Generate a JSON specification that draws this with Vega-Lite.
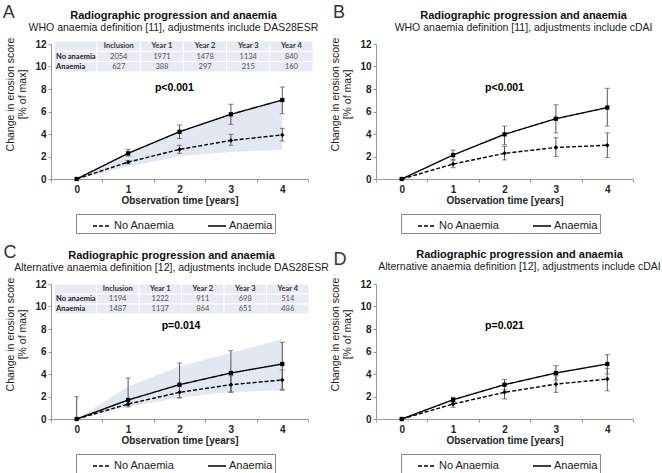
{
"$schema": "https://vega.github.io/schema/vega-lite/v6.json",
"padding": {"left": 2, "top": 3, "right": 0, "bottom": 0},
"background": "white",
"datasets": {
"pts": [
{"p":"A","s":"No Anaemia","x":0,"y":0,"lo":null,"hi":null},
{"p":"A","s":"No Anaemia","x":1,"y":1.5,"lo":1.35,"hi":1.65},
{"p":"A","s":"No Anaemia","x":2,"y":2.63,"lo":2.28,"hi":3.0},
{"p":"A","s":"No Anaemia","x":3,"y":3.43,"lo":3.0,"hi":3.97},
{"p":"A","s":"No Anaemia","x":4,"y":3.92,"lo":3.38,"hi":4.5},
{"p":"A","s":"Anaemia","x":0,"y":0,"lo":null,"hi":null},
{"p":"A","s":"Anaemia","x":1,"y":2.28,"lo":2.04,"hi":2.64},
{"p":"A","s":"Anaemia","x":2,"y":4.2,"lo":3.6,"hi":4.8},
{"p":"A","s":"Anaemia","x":3,"y":5.75,"lo":4.86,"hi":6.64},
{"p":"A","s":"Anaemia","x":4,"y":7.02,"lo":5.8,"hi":8.18},
{"p":"B","s":"No Anaemia","x":0,"y":0,"lo":null,"hi":null},
{"p":"B","s":"No Anaemia","x":1,"y":1.33,"lo":1.0,"hi":1.7},
{"p":"B","s":"No Anaemia","x":2,"y":2.28,"lo":1.7,"hi":2.9},
{"p":"B","s":"No Anaemia","x":3,"y":2.8,"lo":2.0,"hi":3.67},
{"p":"B","s":"No Anaemia","x":4,"y":3.0,"lo":1.9,"hi":4.1},
{"p":"B","s":"Anaemia","x":0,"y":0,"lo":null,"hi":null},
{"p":"B","s":"Anaemia","x":1,"y":2.13,"lo":1.69,"hi":2.57},
{"p":"B","s":"Anaemia","x":2,"y":3.97,"lo":3.05,"hi":4.7},
{"p":"B","s":"Anaemia","x":3,"y":5.36,"lo":4.1,"hi":6.6},
{"p":"B","s":"Anaemia","x":4,"y":6.35,"lo":4.7,"hi":8.06},
{"p":"C","s":"No Anaemia","x":0,"y":0,"lo":null,"hi":null},
{"p":"C","s":"No Anaemia","x":1,"y":1.33,"lo":1.07,"hi":1.6},
{"p":"C","s":"No Anaemia","x":2,"y":2.37,"lo":1.87,"hi":2.96},
{"p":"C","s":"No Anaemia","x":3,"y":3.05,"lo":2.37,"hi":3.85},
{"p":"C","s":"No Anaemia","x":4,"y":3.47,"lo":2.58,"hi":4.36},
{"p":"C","s":"Anaemia","x":0,"y":0,"lo":0,"hi":1.98},
{"p":"C","s":"Anaemia","x":1,"y":1.69,"lo":1.2,"hi":3.64},
{"p":"C","s":"Anaemia","x":2,"y":3.05,"lo":1.9,"hi":4.98},
{"p":"C","s":"Anaemia","x":3,"y":4.09,"lo":2.4,"hi":6.07},
{"p":"C","s":"Anaemia","x":4,"y":4.89,"lo":2.6,"hi":6.81},
{"p":"D","s":"No Anaemia","x":0,"y":0,"lo":null,"hi":null},
{"p":"D","s":"No Anaemia","x":1,"y":1.33,"lo":1.04,"hi":1.6},
{"p":"D","s":"No Anaemia","x":2,"y":2.37,"lo":1.78,"hi":2.96},
{"p":"D","s":"No Anaemia","x":3,"y":3.1,"lo":2.37,"hi":3.85},
{"p":"D","s":"No Anaemia","x":4,"y":3.55,"lo":2.5,"hi":4.5},
{"p":"D","s":"Anaemia","x":0,"y":0,"lo":null,"hi":null},
{"p":"D","s":"Anaemia","x":1,"y":1.71,"lo":1.48,"hi":1.93},
{"p":"D","s":"Anaemia","x":2,"y":3.05,"lo":2.6,"hi":3.5},
{"p":"D","s":"Anaemia","x":3,"y":4.09,"lo":3.47,"hi":4.74},
{"p":"D","s":"Anaemia","x":4,"y":4.89,"lo":4.0,"hi":5.72}
],
"band": [
{"p":"A","x":0,"lo":0,"hi":0},
{"p":"A","x":1,"lo":1.12,"hi":2.28},
{"p":"A","x":2,"lo":2.02,"hi":4.2},
{"p":"A","x":3,"lo":2.4,"hi":5.75},
{"p":"A","x":4,"lo":2.6,"hi":7.02},
{"p":"C","x":0,"lo":0,"hi":0},
{"p":"C","x":1,"lo":1.1,"hi":2.9},
{"p":"C","x":2,"lo":1.9,"hi":4.7},
{"p":"C","x":3,"lo":2.4,"hi":5.9},
{"p":"C","x":4,"lo":2.55,"hi":7.1}
],
"notes": [
{"p":"A","t":"p<0.001","x":1.9,"y":8.1,"letter":"A","lx":-1.32,"ly":14.76},
{"p":"B","t":"p<0.001","x":2.0,"y":8.1,"letter":"B","lx":-1.22,"ly":14.76},
{"p":"C","t":"p=0.014","x":2.03,"y":8.27,"letter":"C","lx":-1.3,"ly":14.76},
{"p":"D","t":"p=0.021","x":2.0,"y":8.27,"letter":"D","lx":-1.2,"ly":14.13}
],
"tbl": [
{"p":"A","row":"Header","col":"Label","k":"e","v":""},
{"p":"A","row":"Header","col":"Inclusion","k":"h","v":"Inclusion"},
{"p":"A","row":"Header","col":"Year 1","k":"h","v":"Year 1"},
{"p":"A","row":"Header","col":"Year 2","k":"h","v":"Year 2"},
{"p":"A","row":"Header","col":"Year 3","k":"h","v":"Year 3"},
{"p":"A","row":"Header","col":"Year 4","k":"h","v":"Year 4"},
{"p":"A","row":"No anaemia","col":"Label","k":"l","v":"No anaemia"},
{"p":"A","row":"No anaemia","col":"Inclusion","k":"n","v":"2054"},
{"p":"A","row":"No anaemia","col":"Year 1","k":"n","v":"1971"},
{"p":"A","row":"No anaemia","col":"Year 2","k":"n","v":"1478"},
{"p":"A","row":"No anaemia","col":"Year 3","k":"n","v":"1134"},
{"p":"A","row":"No anaemia","col":"Year 4","k":"n","v":"840"},
{"p":"A","row":"Anaemia","col":"Label","k":"l","v":"Anaemia"},
{"p":"A","row":"Anaemia","col":"Inclusion","k":"n","v":"627"},
{"p":"A","row":"Anaemia","col":"Year 1","k":"n","v":"388"},
{"p":"A","row":"Anaemia","col":"Year 2","k":"n","v":"297"},
{"p":"A","row":"Anaemia","col":"Year 3","k":"n","v":"215"},
{"p":"A","row":"Anaemia","col":"Year 4","k":"n","v":"160"},
{"p":"C","row":"Header","col":"Label","k":"e","v":""},
{"p":"C","row":"Header","col":"Inclusion","k":"h","v":"Inclusion"},
{"p":"C","row":"Header","col":"Year 1","k":"h","v":"Year 1"},
{"p":"C","row":"Header","col":"Year 2","k":"h","v":"Year 2"},
{"p":"C","row":"Header","col":"Year 3","k":"h","v":"Year 3"},
{"p":"C","row":"Header","col":"Year 4","k":"h","v":"Year 4"},
{"p":"C","row":"No anaemia","col":"Label","k":"l","v":"No anaemia"},
{"p":"C","row":"No anaemia","col":"Inclusion","k":"n","v":"1194"},
{"p":"C","row":"No anaemia","col":"Year 1","k":"n","v":"1222"},
{"p":"C","row":"No anaemia","col":"Year 2","k":"n","v":"911"},
{"p":"C","row":"No anaemia","col":"Year 3","k":"n","v":"698"},
{"p":"C","row":"No anaemia","col":"Year 4","k":"n","v":"514"},
{"p":"C","row":"Anaemia","col":"Label","k":"l","v":"Anaemia"},
{"p":"C","row":"Anaemia","col":"Inclusion","k":"n","v":"1487"},
{"p":"C","row":"Anaemia","col":"Year 1","k":"n","v":"1137"},
{"p":"C","row":"Anaemia","col":"Year 2","k":"n","v":"864"},
{"p":"C","row":"Anaemia","col":"Year 3","k":"n","v":"651"},
{"p":"C","row":"Anaemia","col":"Year 4","k":"n","v":"486"}
]
},
"concat": [
{
"width": 257, "height": 135,
"title": {"text": "Radiographic progression and anaemia", "subtitle": "WHO anaemia definition [11], adjustments include DAS28ESR", "dx": -6},
"layer": [
{"encoding": {"x": {"field": "x", "type": "quantitative", "scale": {"domain": [-0.5, 4.5], "nice": false, "zero": false}, "axis": {"title": "Observation time [years]", "values": [-0.5,0,0.5,1,1.5,2,2.5,3,3.5,4,4.5], "labelExpr": "datum.value % 1 === 0 ? format(datum.value, 'd') : ''", "tickOpacity": {"condition": {"test": "datum.value % 1 === 0", "value": 0}, "value": 1}, "labelOverlap": false, "labelFlush": false}}},
"layer": [
{"data": {"name": "band"}, "transform": [{"filter": "datum.p === 'A'"}], "mark": {"type": "area", "color": "#e3e7f1"}, "encoding": {"y": {"field": "lo", "type": "quantitative", "scale": {"domain": [0, 12]}, "title": ["Change in erosion score", "[% of max]"]}, "y2": {"field": "hi"}}},
{"data": {"name": "pts"}, "transform": [{"filter": "datum.p === 'A' && datum.lo != null"}], "mark": {"type": "errorbar", "ticks": true, "size": 5, "thickness": 1, "color": "#555"}, "encoding": {"y": {"field": "lo", "type": "quantitative", "title": ["Change in erosion score", "[% of max]"]}, "y2": {"field": "hi"}}},
{"data": {"name": "pts"}, "transform": [{"filter": "datum.p === 'A'"}], "mark": {"type": "line", "color": "black", "strokeWidth": 1.4},
 "encoding": {"y": {"field": "y", "type": "quantitative", "scale": {"domain": [0, 12]}, "title": ["Change in erosion score", "[% of max]"]},
 "strokeDash": {"field": "s", "type": "nominal", "scale": {"domain": ["No Anaemia", "Anaemia"], "range": [[4, 2], [1, 0]]},
  "legend": {"orient": "none", "legendX": 25, "legendY": 170, "direction": "horizontal", "title": "\u00a0", "titleOrient": "left", "titlePadding": 14, "padding": 2, "strokeColor": "#888", "columnPadding": 30, "labelOffset": 2, "labelFontSize": 11, "labelColor": "#222", "symbolSize": 324, "symbolStrokeWidth": 1.4, "labelExpr": "datum.value === 'Anaemia' ? datum.label + '\u00a0\u00a0\u00a0' : datum.label"}}}},
{"data": {"name": "pts"}, "transform": [{"filter": "datum.p === 'A' && datum.s === 'No Anaemia'"}], "mark": {"type": "point", "filled": true, "color": "black", "opacity": 1, "size": 20, "shape": "diamond"}, "encoding": {"y": {"field": "y", "type": "quantitative"}}},
{"data": {"name": "pts"}, "transform": [{"filter": "datum.p === 'A' && datum.s === 'Anaemia'"}], "mark": {"type": "point", "filled": true, "color": "black", "opacity": 1, "size": 18, "shape": "square"}, "encoding": {"y": {"field": "y", "type": "quantitative"}}},
{"data": {"name": "notes"}, "transform": [{"filter": "datum.p === 'A'"}], "mark": {"type": "text", "fontWeight": "bold", "fontSize": 10.5}, "encoding": {"x": {"field": "x", "type": "quantitative"}, "y": {"field": "y", "type": "quantitative"}, "text": {"field": "t"}}},
{"data": {"name": "notes"}, "transform": [{"filter": "datum.p === 'A'"}], "mark": {"type": "text", "fontSize": 18, "color": "#333"}, "encoding": {"x": {"field": "lx", "type": "quantitative"}, "y": {"field": "ly", "type": "quantitative"}, "text": {"field": "letter"}}}
]},
{"data": {"name": "tbl"}, "transform": [{"filter": "datum.p === 'A'"}],
 "encoding": {"x": {"field": "col", "type": "nominal", "scale": {"type": "band", "domain": ["Label","Inclusion","Year 1","Year 2","Year 3","Year 4"], "range": [3, 262], "paddingInner": 0, "paddingOuter": 0}, "axis": null},
  "y": {"field": "row", "type": "nominal", "scale": {"type": "band", "domain": ["Header","No anaemia","Anaemia"], "range": [-3, 28], "paddingInner": 0, "paddingOuter": 0}, "axis": null}},
 "layer": [
  {"mark": {"type": "rect", "fill": "#e8ebf3", "stroke": "white", "strokeWidth": 1}},
  {"transform": [{"filter": "datum.k === 'h'"}], "mark": {"type": "text", "font": "Lato", "fontWeight": "bold", "fontSize": 7.5, "color": "#333"}, "encoding": {"text": {"field": "v"}}},
  {"transform": [{"filter": "datum.k === 'n'"}], "mark": {"type": "text", "font": "Lato", "fontSize": 7.5, "color": "#555"}, "encoding": {"text": {"field": "v"}}},
  {"transform": [{"filter": "datum.k === 'l'"}], "mark": {"type": "text", "font": "Lato", "fontWeight": "bold", "fontSize": 7.5, "color": "#222", "align": "left", "dx": 2}, "encoding": {"x": {"field": "col", "type": "nominal", "bandPosition": 0, "axis": null}, "text": {"field": "v"}}}
 ]}
],
"resolve": {"scale": {"x": "independent", "y": "independent"}}
},
{
"width": 257, "height": 135,
"title": {"text": "Radiographic progression and anaemia", "subtitle": "WHO anaemia definition [11], adjustments include cDAI", "dx": 19},
"encoding": {"x": {"field": "x", "type": "quantitative", "scale": {"domain": [-0.5, 4.5], "nice": false, "zero": false}, "axis": {"title": "Observation time [years]", "values": [-0.5,0,0.5,1,1.5,2,2.5,3,3.5,4,4.5], "labelExpr": "datum.value % 1 === 0 ? format(datum.value, 'd') : ''", "tickOpacity": {"condition": {"test": "datum.value % 1 === 0", "value": 0}, "value": 1}, "labelOverlap": false, "labelFlush": false}}},
"layer": [
{"data": {"name": "pts"}, "transform": [{"filter": "datum.p === 'B' && datum.lo != null"}], "mark": {"type": "errorbar", "ticks": true, "size": 5, "thickness": 1, "color": "#555"}, "encoding": {"y": {"field": "lo", "type": "quantitative", "scale": {"domain": [0, 12]}, "title": ["Change in erosion score", "[% of max]"]}, "y2": {"field": "hi"}}},
{"data": {"name": "pts"}, "transform": [{"filter": "datum.p === 'B'"}], "mark": {"type": "line", "color": "black", "strokeWidth": 1.4},
 "encoding": {"y": {"field": "y", "type": "quantitative", "scale": {"domain": [0, 12]}, "title": ["Change in erosion score", "[% of max]"]},
 "strokeDash": {"field": "s", "type": "nominal", "scale": {"domain": ["No Anaemia", "Anaemia"], "range": [[4, 2], [1, 0]]},
  "legend": {"orient": "none", "legendX": 25, "legendY": 170, "direction": "horizontal", "title": "\u00a0", "titleOrient": "left", "titlePadding": 14, "padding": 2, "strokeColor": "#888", "columnPadding": 30, "labelOffset": 2, "labelFontSize": 11, "labelColor": "#222", "symbolSize": 324, "symbolStrokeWidth": 1.4, "labelExpr": "datum.value === 'Anaemia' ? datum.label + '\u00a0\u00a0\u00a0' : datum.label"}}}},
{"data": {"name": "pts"}, "transform": [{"filter": "datum.p === 'B' && datum.s === 'No Anaemia'"}], "mark": {"type": "point", "filled": true, "color": "black", "opacity": 1, "size": 20, "shape": "diamond"}, "encoding": {"y": {"field": "y", "type": "quantitative"}}},
{"data": {"name": "pts"}, "transform": [{"filter": "datum.p === 'B' && datum.s === 'Anaemia'"}], "mark": {"type": "point", "filled": true, "color": "black", "opacity": 1, "size": 18, "shape": "square"}, "encoding": {"y": {"field": "y", "type": "quantitative"}}},
{"data": {"name": "notes"}, "transform": [{"filter": "datum.p === 'B'"}], "mark": {"type": "text", "fontWeight": "bold", "fontSize": 10.5}, "encoding": {"x": {"field": "x", "type": "quantitative"}, "y": {"field": "y", "type": "quantitative"}, "text": {"field": "t"}}},
{"data": {"name": "notes"}, "transform": [{"filter": "datum.p === 'B'"}], "mark": {"type": "text", "fontSize": 18, "color": "#333"}, "encoding": {"x": {"field": "lx", "type": "quantitative"}, "y": {"field": "ly", "type": "quantitative"}, "text": {"field": "letter"}}}
]
},
{
"width": 257, "height": 135,
"title": {"text": "Radiographic progression and anaemia", "subtitle": "Alternative anaemia definition [12], adjustments include DAS28ESR", "dx": -8},
"layer": [
{"encoding": {"x": {"field": "x", "type": "quantitative", "scale": {"domain": [-0.5, 4.5], "nice": false, "zero": false}, "axis": {"title": "Observation time [years]", "values": [-0.5,0,0.5,1,1.5,2,2.5,3,3.5,4,4.5], "labelExpr": "datum.value % 1 === 0 ? format(datum.value, 'd') : ''", "tickOpacity": {"condition": {"test": "datum.value % 1 === 0", "value": 0}, "value": 1}, "labelOverlap": false, "labelFlush": false}}},
"layer": [
{"data": {"name": "band"}, "transform": [{"filter": "datum.p === 'C'"}], "mark": {"type": "area", "color": "#e3e7f1"}, "encoding": {"y": {"field": "lo", "type": "quantitative", "scale": {"domain": [0, 12]}, "title": ["Change in erosion score", "[% of max]"]}, "y2": {"field": "hi"}}},
{"data": {"name": "pts"}, "transform": [{"filter": "datum.p === 'C' && datum.lo != null"}], "mark": {"type": "errorbar", "ticks": true, "size": 5, "thickness": 1, "color": "#555"}, "encoding": {"y": {"field": "lo", "type": "quantitative", "title": ["Change in erosion score", "[% of max]"]}, "y2": {"field": "hi"}}},
{"data": {"name": "pts"}, "transform": [{"filter": "datum.p === 'C'"}], "mark": {"type": "line", "color": "black", "strokeWidth": 1.4},
 "encoding": {"y": {"field": "y", "type": "quantitative", "scale": {"domain": [0, 12]}, "title": ["Change in erosion score", "[% of max]"]},
 "strokeDash": {"field": "s", "type": "nominal", "scale": {"domain": ["No Anaemia", "Anaemia"], "range": [[4, 2], [1, 0]]},
  "legend": {"orient": "none", "legendX": 25, "legendY": 170, "direction": "horizontal", "title": "\u00a0", "titleOrient": "left", "titlePadding": 14, "padding": 2, "strokeColor": "#888", "columnPadding": 30, "labelOffset": 2, "labelFontSize": 11, "labelColor": "#222", "symbolSize": 324, "symbolStrokeWidth": 1.4, "labelExpr": "datum.value === 'Anaemia' ? datum.label + '\u00a0\u00a0\u00a0' : datum.label"}}}},
{"data": {"name": "pts"}, "transform": [{"filter": "datum.p === 'C' && datum.s === 'No Anaemia'"}], "mark": {"type": "point", "filled": true, "color": "black", "opacity": 1, "size": 20, "shape": "diamond"}, "encoding": {"y": {"field": "y", "type": "quantitative"}}},
{"data": {"name": "pts"}, "transform": [{"filter": "datum.p === 'C' && datum.s === 'Anaemia'"}], "mark": {"type": "point", "filled": true, "color": "black", "opacity": 1, "size": 18, "shape": "square"}, "encoding": {"y": {"field": "y", "type": "quantitative"}}},
{"data": {"name": "notes"}, "transform": [{"filter": "datum.p === 'C'"}], "mark": {"type": "text", "fontWeight": "bold", "fontSize": 10.5}, "encoding": {"x": {"field": "x", "type": "quantitative"}, "y": {"field": "y", "type": "quantitative"}, "text": {"field": "t"}}},
{"data": {"name": "notes"}, "transform": [{"filter": "datum.p === 'C'"}], "mark": {"type": "text", "fontSize": 18, "color": "#333"}, "encoding": {"x": {"field": "lx", "type": "quantitative"}, "y": {"field": "ly", "type": "quantitative"}, "text": {"field": "letter"}}}
]},
{"data": {"name": "tbl"}, "transform": [{"filter": "datum.p === 'C'"}],
 "encoding": {"x": {"field": "col", "type": "nominal", "scale": {"type": "band", "domain": ["Label","Inclusion","Year 1","Year 2","Year 3","Year 4"], "range": [3, 258], "paddingInner": 0, "paddingOuter": 0}, "axis": null},
  "y": {"field": "row", "type": "nominal", "scale": {"type": "band", "domain": ["Header","No anaemia","Anaemia"], "range": [0, 30], "paddingInner": 0, "paddingOuter": 0}, "axis": null}},
 "layer": [
  {"mark": {"type": "rect", "fill": "#e8ebf3", "stroke": "white", "strokeWidth": 1}},
  {"transform": [{"filter": "datum.k === 'h'"}], "mark": {"type": "text", "font": "Lato", "fontWeight": "bold", "fontSize": 7.5, "color": "#333"}, "encoding": {"text": {"field": "v"}}},
  {"transform": [{"filter": "datum.k === 'n'"}], "mark": {"type": "text", "font": "Lato", "fontSize": 7.5, "color": "#555"}, "encoding": {"text": {"field": "v"}}},
  {"transform": [{"filter": "datum.k === 'l'"}], "mark": {"type": "text", "font": "Lato", "fontWeight": "bold", "fontSize": 7.5, "color": "#222", "align": "left", "dx": 2}, "encoding": {"x": {"field": "col", "type": "nominal", "bandPosition": 0, "axis": null}, "text": {"field": "v"}}}
 ]}
],
"resolve": {"scale": {"x": "independent", "y": "independent"}}
},
{
"width": 257, "height": 135,
"title": {"text": "Radiographic progression and anaemia", "subtitle": "Alternative anaemia definition [12], adjustments include cDAI", "dx": 15, "offset": -21},
"encoding": {"x": {"field": "x", "type": "quantitative", "scale": {"domain": [-0.5, 4.5], "nice": false, "zero": false}, "axis": {"title": "Observation time [years]", "values": [-0.5,0,0.5,1,1.5,2,2.5,3,3.5,4,4.5], "labelExpr": "datum.value % 1 === 0 ? format(datum.value, 'd') : ''", "tickOpacity": {"condition": {"test": "datum.value % 1 === 0", "value": 0}, "value": 1}, "labelOverlap": false, "labelFlush": false}}},
"layer": [
{"data": {"name": "pts"}, "transform": [{"filter": "datum.p === 'D' && datum.lo != null"}], "mark": {"type": "errorbar", "ticks": true, "size": 5, "thickness": 1, "color": "#555"}, "encoding": {"y": {"field": "lo", "type": "quantitative", "scale": {"domain": [0, 12]}, "title": ["Change in erosion score", "[% of max]"]}, "y2": {"field": "hi"}}},
{"data": {"name": "pts"}, "transform": [{"filter": "datum.p === 'D'"}], "mark": {"type": "line", "color": "black", "strokeWidth": 1.4},
 "encoding": {"y": {"field": "y", "type": "quantitative", "scale": {"domain": [0, 12]}, "title": ["Change in erosion score", "[% of max]"]},
 "strokeDash": {"field": "s", "type": "nominal", "scale": {"domain": ["No Anaemia", "Anaemia"], "range": [[4, 2], [1, 0]]},
  "legend": {"orient": "none", "legendX": 25, "legendY": 170, "direction": "horizontal", "title": "\u00a0", "titleOrient": "left", "titlePadding": 14, "padding": 2, "strokeColor": "#888", "columnPadding": 30, "labelOffset": 2, "labelFontSize": 11, "labelColor": "#222", "symbolSize": 324, "symbolStrokeWidth": 1.4, "labelExpr": "datum.value === 'Anaemia' ? datum.label + '\u00a0\u00a0\u00a0' : datum.label"}}}},
{"data": {"name": "pts"}, "transform": [{"filter": "datum.p === 'D' && datum.s === 'No Anaemia'"}], "mark": {"type": "point", "filled": true, "color": "black", "opacity": 1, "size": 20, "shape": "diamond"}, "encoding": {"y": {"field": "y", "type": "quantitative"}}},
{"data": {"name": "pts"}, "transform": [{"filter": "datum.p === 'D' && datum.s === 'Anaemia'"}], "mark": {"type": "point", "filled": true, "color": "black", "opacity": 1, "size": 18, "shape": "square"}, "encoding": {"y": {"field": "y", "type": "quantitative"}}},
{"data": {"name": "notes"}, "transform": [{"filter": "datum.p === 'D'"}], "mark": {"type": "text", "fontWeight": "bold", "fontSize": 10.5}, "encoding": {"x": {"field": "x", "type": "quantitative"}, "y": {"field": "y", "type": "quantitative"}, "text": {"field": "t"}}},
{"data": {"name": "notes"}, "transform": [{"filter": "datum.p === 'D'"}], "mark": {"type": "text", "fontSize": 18, "color": "#333"}, "encoding": {"x": {"field": "lx", "type": "quantitative"}, "y": {"field": "ly", "type": "quantitative"}, "text": {"field": "letter"}}}
]
}
],
"columns": 2,
"spacing": {"row": 105, "column": 68},
"bounds": "flush",
"resolve": {"scale": {"strokeDash": "independent"}, "legend": {"strokeDash": "independent"}},
"config": {
"font": "Liberation Sans",
"view": {"stroke": null},
"axis": {"grid": false, "domainColor": "#999", "tickColor": "#999", "labelFontWeight": "bold", "labelFontSize": 10, "labelColor": "#222", "titleColor": "#222", "labelFont": "Liberation Sans", "titleFont": "Liberation Sans"},
"axisX": {"tickSize": 3, "labelPadding": 2, "titlePadding": 1, "titleFontWeight": "bold", "titleFontSize": 10},
"axisY": {"values": [0, 2, 4, 6, 8, 10, 12], "labelOverlap": false, "tickSize": 3, "labelPadding": 2, "titleFontWeight": "normal", "titleFontSize": 10.5, "titleX": -46, "titleY": 50, "titleAlign": "center", "titleBaseline": "top", "titleAngle": -90},
"title": {"fontSize": 11, "fontWeight": "bold", "color": "#111", "subtitleFontSize": 10.5, "subtitleColor": "#222", "subtitlePadding": 2, "anchor": "middle", "offset": -30},
"legend": {"labelFont": "Liberation Sans"}
}
}
